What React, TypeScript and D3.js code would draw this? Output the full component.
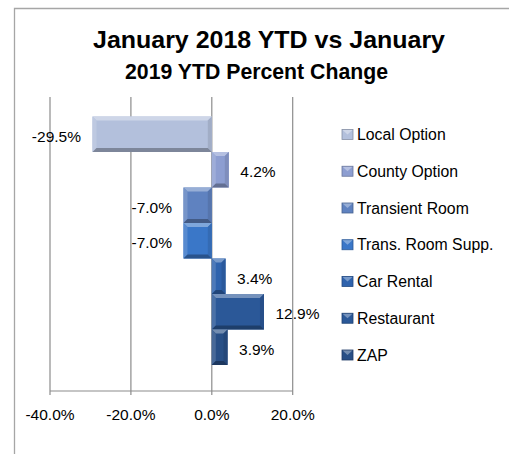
import React from 'react';
import { scaleLinear, scaleBand } from 'd3';

const categories = [
  'Local Option',
  'County Option',
  'Transient Room',
  'Trans. Room Supp.',
  'Car Rental',
  'Restaurant',
  'ZAP',
];
const changes = [-29.5, 4.2, -7.0, -7.0, 3.4, 12.9, 3.9];
const xTicks = [-40, -20, 0, 20];
const colors = ['#b3c0dc', '#8d9ed1', '#5f82c0', '#3a77c8', '#2f63ad', '#2b5898', '#284f86'];
const titleLines = ['January 2018 YTD vs January', '2019 YTD Percent Change'];

const font = '"Liberation Sans", Arial, sans-serif';

function shade(c: string, k: number) {
  // k > 0 lighten toward white, k < 0 darken toward black
  const n = parseInt(c.slice(1), 16);
  let r = (n >> 16) & 255, g = (n >> 8) & 255, b = n & 255;
  const f = (v: number) => Math.round(k > 0 ? v + (255 - v) * k : v * (1 + k));
  r = f(r); g = f(g); b = f(b);
  return `rgb(${r},${g},${b})`;
}

function Bevel({ x, y, w, h, color }: { x: number; y: number; w: number; h: number; color: string }) {
  const b = Math.min(4, w / 3, h / 3);
  return (
    <g>
      <rect x={x} y={y} width={w} height={h} fill={color} />
      <polygon points={`${x},${y} ${x + w},${y} ${x + w - b},${y + b} ${x + b},${y + b}`} fill={shade(color, 0.35)} />
      <polygon points={`${x},${y} ${x + b},${y + b} ${x + b},${y + h - b} ${x},${y + h}`} fill={shade(color, 0.15)} />
      <polygon points={`${x + w},${y} ${x + w - b},${y + b} ${x + w - b},${y + h - b} ${x + w},${y + h}`} fill={shade(color, -0.1)} />
      <polygon points={`${x},${y + h} ${x + b},${y + h - b} ${x + w - b},${y + h - b} ${x + w},${y + h}`} fill={shade(color, -0.3)} />
    </g>
  );
}

export default function App() {
  const x = scaleLinear().domain([-40, 20]).range([50, 292.7]);
  const y = scaleBand<string>().domain(categories).range([116.5, 365]).padding(0);
  const plotTop = 97;
  const plotBottom = 391;
  const labelOffset = 11.5;

  return (
    <svg width={509} height={454} style={{ position: 'absolute', left: 0, top: 0, background: '#fff' }}>
      {/* chart border */}
      <path d="M14.5,454 L14.5,8.5 L509,8.5" fill="none" stroke="#a6a6a6" strokeWidth={1.3} />

      {/* title */}
      <text x={269} y={48} textAnchor="middle" fontFamily={font} fontWeight="bold" fontSize={24}
        textLength={352} lengthAdjust="spacingAndGlyphs" fill="#000">{titleLines[0]}</text>
      <text x={256.5} y={79} textAnchor="middle" fontFamily={font} fontWeight="bold" fontSize={22.5}
        textLength={263} lengthAdjust="spacingAndGlyphs" fill="#000">{titleLines[1]}</text>

      {/* gridlines */}
      {xTicks.map((t) => (
        <line key={'g' + t} x1={x(t)} x2={x(t)} y1={plotTop} y2={plotBottom + 4} stroke="#8c8c8c" strokeWidth={1.2} />
      ))}
      <line x1={x(-40)} x2={x(20)} y1={plotBottom} y2={plotBottom} stroke="#8c8c8c" strokeWidth={1.2} />

      {/* bars */}
      {categories.map((c, i) => {
        const v = changes[i];
        const x0 = x(Math.min(0, v));
        const x1 = x(Math.max(0, v));
        return <Bevel key={c} x={x0} y={y(c)!} w={x1 - x0} h={y.bandwidth()} color={colors[i]} />;
      })}

      {/* data labels */}
      {categories.map((c, i) => {
        const v = changes[i];
        const px = v < 0 ? x(v) - labelOffset : x(v) + labelOffset;
        return (
          <text key={'l' + c} x={px} y={y(c)! + y.bandwidth() / 2 + 2} dy="0.35em"
            textAnchor={v < 0 ? 'end' : 'start'} fontFamily={font} fontSize={15.5} fill="#000">
            {v.toFixed(1) + '%'}
          </text>
        );
      })}

      {/* x tick labels */}
      {xTicks.map((t) => (
        <text key={'t' + t} x={x(t)} y={420} textAnchor="middle" fontFamily={font} fontSize={15.5} fill="#000">
          {t.toFixed(1) + '%'}
        </text>
      ))}

      {/* legend */}
      {categories.map((c, i) => {
        const cy = 134.5 + i * 36.75;
        const mx = 342;
        const mw = 11;
        const mh = 10;
        const my = cy - mh / 2;
        return (
          <g key={'lg' + c}>
            <rect x={mx} y={my} width={mw} height={mh} fill={colors[i]} />
            <polygon points={`${mx},${my} ${mx + mw},${my} ${mx + mw / 2},${my + mh / 2}`} fill={shade(colors[i], 0.35)} />
            <rect x={mx} y={my} width={mw} height={mh} fill="none" stroke={shade(colors[i], -0.25)} strokeWidth={0.8} />
            <text x={357} y={cy} dy="0.36em" fontFamily={font} fontSize={15.8} fill="#000">{c}</text>
          </g>
        );
      })}
    </svg>
  );
}
